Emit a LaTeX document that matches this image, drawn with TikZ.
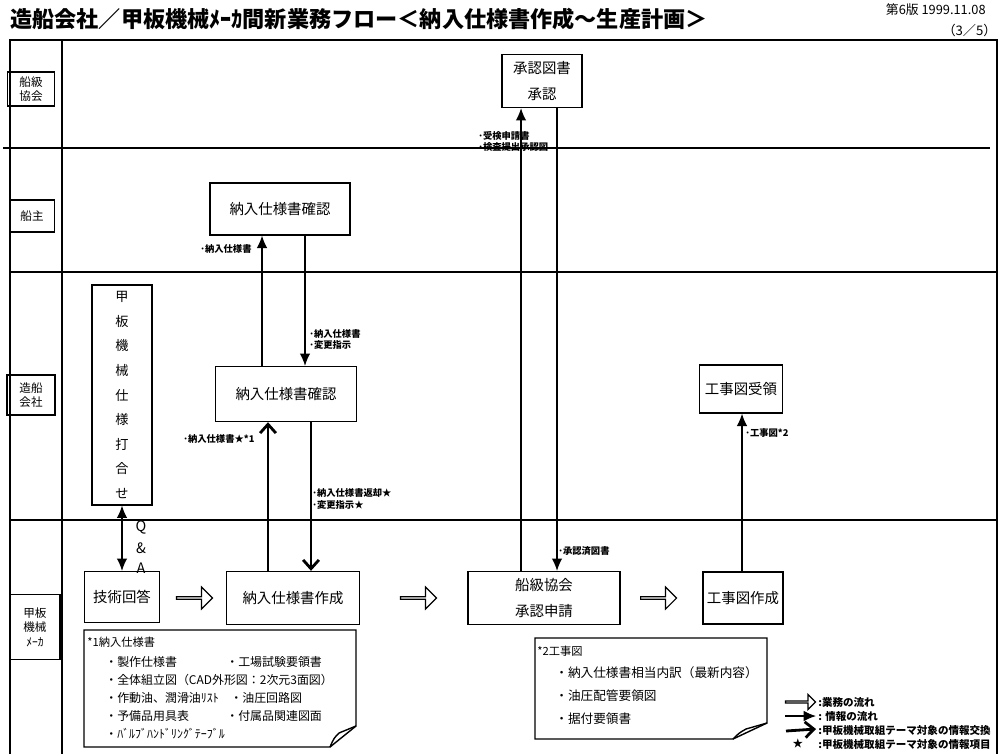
\documentclass[tikz,border=0pt]{standalone}
\usepackage{fontspec}
\setmainfont{Noto Sans CJK JP}
\usetikzlibrary{arrows.meta,shapes.arrows}
\tikzset{box/.style={draw, line width=0.8pt, inner sep=0pt, align=center, font=\fontsize{8.2}{14.5}\selectfont},
  lane/.style={draw, line width=0.7pt, inner sep=0pt, align=center, font=\fontsize{6.6}{8.2}\selectfont},
  info/.style={line width=0.7pt, -{Latex[length=7pt,width=6pt]}},
  infoex/.style={line width=1.6pt, -{Straight Barb[length=5pt,width=9pt]}},
  flow/.style={single arrow, draw, line width=0.7pt, inner sep=0pt, minimum height=0.72cm, minimum width=0.44cm, single arrow head extend=0.1cm},
  lbl/.style={anchor=west, inner sep=0pt, font=\bfseries\fontsize{5.3}{6.5}\selectfont},
  notetxt/.style={anchor=west, inner sep=0pt, font=\fontsize{6.8}{8}\selectfont},
  frame/.style={line width=0.8pt}}

\begin{document}
\begin{tikzpicture}[x=0.02cm, y=-0.02cm]
\useasboundingbox (0,0) rectangle (1000,754);
\node[anchor=west, inner sep=0pt, font=\bfseries\fontsize{12.6}{14}\selectfont] (title) at (10,19) {造船会社／甲板機械ﾒｰｶ間新業務フロー＜納入仕様書作成～生産計画＞};
\node[anchor=east, inner sep=0pt, font=\fontsize{7.3}{8}\selectfont] (ver) at (986,10) {第6版 1999.11.08};
\node[anchor=east, inner sep=0pt, font=\fontsize{7.5}{8}\selectfont] (page) at (997,30) {（3／5）};

\draw[frame] (10,754) -- (10,40) -- (997,40) -- (997,754);
\draw[frame] (62,40) -- (62,754);
\draw[frame] (3,148) -- (990,148);
\draw[frame] (10,272) -- (997,272);
\draw[frame] (10,520) -- (997,520);

\node[lane, minimum width=0.94cm, minimum height=0.68cm] (lclass) at (31,89) {船級\\協会};
\node[lane, minimum width=0.9cm, minimum height=0.64cm] (lowner) at (32,216) {船主};
\node[lane, minimum width=0.96cm, minimum height=0.8cm] (lyard) at (31,395) {造船\\会社};
\node[lane, minimum width=1cm, minimum height=1.3cm] (lmaker) at (35,627) {甲板\\機械\\ﾒｰｶ};

\node[box, minimum width=1.6cm, minimum height=1.06cm] (shonin) at (542,81) {承認図書\\承認};
\node[box, minimum width=2.8cm, minimum height=1.04cm] (ownchk) at (280,209) {納入仕様書確認};
\node[box, minimum width=2.82cm, minimum height=1.1cm] (yardchk) at (286,394) {納入仕様書確認};
\node[box, minimum width=1.2cm, minimum height=4.4cm, font=\fontsize{7.5}{14}\selectfont] (uchiawase) at (122,395) {甲\\板\\機\\械\\仕\\様\\打\\合\\せ};
\node[box, minimum width=1.5cm, minimum height=1.02cm] (kaito) at (122,597) {技術回答};
\node[box, minimum width=2.66cm, minimum height=1.06cm] (sakusei) at (293,598) {納入仕様書作成};
\node[box, minimum width=3.04cm, minimum height=1.06cm] (shinsei) at (544,598) {船級協会\\承認申請};
\node[box, minimum width=1.6cm, minimum height=1.04cm] (kojisaku) at (743,598) {工事図作成};
\node[box, minimum width=1.66cm, minimum height=0.96cm] (kojiju) at (741,389) {工事図受領};

\node[flow] (f1) at (194,598) {};
\node[flow] (f2) at (418,598) {};
\node[flow] (f3) at (658,598) {};

\draw[info] (shinsei.north -| 521,0) -- (shonin.south -| 521,0);
\draw[info] (shonin.south -| 557,0) -- (shinsei.north -| 557,0);
\draw[info] (yardchk.north -| 262,0) -- (ownchk.south -| 262,0);
\draw[info] (ownchk.south -| 305,0) -- (yardchk.north -| 305,0);
\draw[infoex] (sakusei.north -| 268,0) -- (yardchk.south -| 268,0);
\draw[infoex] (yardchk.south -| 311,0) -- (sakusei.north -| 311,0);
\draw[line width=0.7pt, {Latex[length=7pt,width=6pt]}-{Latex[length=7pt,width=6pt]}] (uchiawase.south) -- (kaito.north);
\draw[info] (kojisaku.north -| 742,0) -- (kojiju.south -| 742,0);

\node[lbl] (l1) at (478,136) {･受検申請書};
\node[lbl] (l2) at (478,147) {･検査提出承認図};
\node[lbl] (l3) at (200,249) {･納入仕様書};
\node[lbl] (l4) at (309,334) {･納入仕様書};
\node[lbl] (l5) at (309,345) {･変更指示};
\node[lbl] (l6) at (183,439) {･納入仕様書★*1};
\node[lbl] (l7) at (312,493) {･納入仕様書返却★};
\node[lbl] (l8) at (312,505) {･変更指示★};
\node[lbl] (l9) at (558,551) {･承認済図書};
\node[lbl] (l10) at (745,433) {･工事図*2};
\node[inner sep=0pt, font=\fontsize{8.2}{9}\selectfont] (q) at (141,527) {Q};
\node[inner sep=0pt, font=\fontsize{8.2}{9}\selectfont] (amp) at (141,548) {\&};
\node[inner sep=0pt, font=\fontsize{8.2}{9}\selectfont] (a) at (141,568) {A};

\draw[line width=0.8pt] (84,630) -- (356,630) -- (356,726) -- (330,747) -- (84,747) -- cycle;
\draw[line width=0.8pt] (356,726) -- (339,733) .. controls (334,738) .. (330,747);
\node[notetxt, font=\fontsize{6.4}{8}\selectfont] (n1) at (87,642) {*1納入仕様書};
\node[notetxt] (n1a) at (105,662) {・製作仕様書};
\node[notetxt] (n1b) at (226,662) {・工場試験要領書};
\node[notetxt] (n1c) at (105,680) {・全体組立図（CAD外形図：2次元3面図）};
\node[notetxt] (n1d) at (105,698) {・作動油、潤滑油ﾘｽﾄ};
\node[notetxt] (n1e) at (230,698) {・油圧回路図};
\node[notetxt] (n1f) at (105,716) {・予備品用具表};
\node[notetxt] (n1g) at (226,716) {・付属品関連図面};
\node[notetxt] (n1h) at (105,734) {・ﾊﾞﾙﾌﾞﾊﾝﾄﾞﾘﾝｸﾞﾃｰﾌﾞﾙ};

\draw[line width=0.8pt] (535,638) -- (767,638) -- (767,723) -- (733,739) -- (535,739) -- cycle;
\draw[line width=0.8pt] (767,723) -- (746,729) .. controls (739,733) .. (733,739);
\node[notetxt, font=\fontsize{6.4}{8}\selectfont] (n2) at (537,651) {*2工事図};
\node[notetxt, font=\fontsize{7.2}{8}\selectfont] (n2a) at (555,673) {・納入仕様書相当内訳（最新内容）};
\node[notetxt, font=\fontsize{7.2}{8}\selectfont] (n2b) at (555,696) {・油圧配管要領図};
\node[notetxt, font=\fontsize{7.2}{8}\selectfont] (n2c) at (555,719) {・据付要領書};

\node[flow, minimum height=0.6cm, minimum width=0.3cm, single arrow head extend=0.08cm] (lg1) at (800,702) {};
\coordinate (lg2a) at (785,716);
\coordinate (lg2b) at (816,716);
\draw[info] (lg2a) -- (lg2b);
\coordinate (lg3a) at (786,731);
\coordinate (lg3b) at (816,729);
\draw[infoex] (lg3a) -- (lg3b);
\node[inner sep=0pt, font=\fontsize{6}{7}\selectfont] (lg4) at (798,743) {★};
\node[lbl, font=\bfseries\fontsize{6}{7}\selectfont] (lt1) at (818,702) {:業務の流れ};
\node[lbl, font=\bfseries\fontsize{6}{7}\selectfont] (lt2) at (818,716) {: 情報の流れ};
\node[lbl, font=\bfseries\fontsize{6}{7}\selectfont] (lt3) at (818,730) {:甲板機械取組テーマ対象の情報交換};
\node[lbl, font=\bfseries\fontsize{6}{7}\selectfont] (lt4) at (818,744) {:甲板機械取組テーマ対象の情報項目};
\end{tikzpicture}
\end{document}
